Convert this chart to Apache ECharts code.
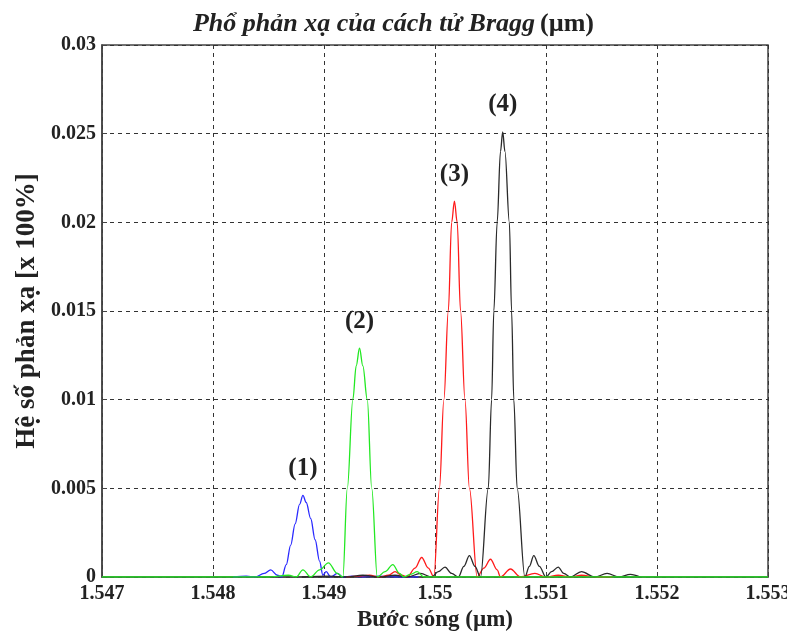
<!DOCTYPE html>
<html>
<head>
<meta charset="utf-8">
<script src="https://cdn.jsdelivr.net/npm/echarts@6/dist/echarts.min.js"></script>
<style>
  html, body { margin: 0; padding: 0; background: #fff; }
  #main { width: 787px; height: 634px; }
</style>
</head>
<body>
<div id="main"></div>
<script>
// Bước sóng (µm) và hệ số phản xạ
const xTicks = [1.547, 1.548, 1.549, 1.55, 1.551, 1.552, 1.553];
const yTicks = [0, 0.005, 0.01, 0.015, 0.02, 0.025, 0.03];
const peakNames = ['(1)', '(2)', '(3)', '(4)'];

// (1) - xanh dương
const wlBlue = [1.54818, 1.5483, 1.54838, 1.54846, 1.54852, 1.54858, 1.54862, 1.54866, 1.5487, 1.54874,
    1.54878, 1.54881, 1.54884, 1.54888, 1.54892, 1.54896, 1.54899, 1.54902, 1.54906, 1.54912,
    1.54917, 1.54925, 1.54935, 1.5495, 1.54965, 1.54985];
const rBlue = [0, 0.00005, 0, 0.0002, 0.0004, 0.0001, 0, 0.0007, 0.0018, 0.003,
    0.0041, 0.0046, 0.0042, 0.0033, 0.0021, 0.0009, 0.0001, 0.0003, 0, 0.0002,
    0, 0.00005, 0, 0.00005, 0, 0];

// (2) - xanh lá
const wlGreen = [1.547, 1.5485, 1.54868, 1.54875, 1.54881, 1.54888, 1.54896, 1.54904, 1.54912, 1.54917,
    1.54921, 1.54926, 1.54929, 1.54932, 1.54935, 1.54939, 1.54943, 1.54948, 1.54955, 1.54962,
    1.54968, 1.54972, 1.54978, 1.54984, 1.5499, 1.55, 1.553];
const rGreen = [0, 0, 0.0001, 0, 0.0004, 0, 0.0004, 0.0008, 0.0002, 0,
    0.005, 0.01, 0.0119, 0.0129, 0.0119, 0.01, 0.005, 0, 0.0003, 0.0007,
    0.0002, 0, 0.00015, 0.0003, 0, 0, 0];

// (3) - đỏ
const wlRed = [1.5492, 1.54932, 1.54941, 1.5495, 1.54958, 1.54964, 1.5497, 1.54975, 1.54982, 1.54988,
    1.54994, 1.54999, 1.55004, 1.55008, 1.55012, 1.55015, 1.550175, 1.5502, 1.55023, 1.55027,
    1.55031, 1.55038, 1.55044, 1.5505, 1.55056, 1.55059, 1.55068, 1.55077, 1.5509, 1.551,
    1.55111, 1.55122, 1.55132, 1.55145, 1.5516];
const rRed = [0, 0.00005, 0.0001, 0, 0.0001, 0.0003, 0.0001, 0, 0.0005, 0.0011,
    0.0005, 0, 0.005, 0.01, 0.015, 0.02, 0.0212, 0.02, 0.015, 0.01,
    0.005, 0, 0.0005, 0.001, 0.0004, 0, 0.00045, 0, 0.0002, 0,
    0.0001, 0, 0.0001, 0, 0];

// (4) - đen
const wlBlack = [1.5488, 1.54905, 1.5492, 1.54935, 1.5495, 1.54964, 1.54975, 1.54987, 1.54997, 1.55003,
    1.55009, 1.55015, 1.55021, 1.55026, 1.55031, 1.55036, 1.55041, 1.55048, 1.55051, 1.55053,
    1.55056, 1.55059, 1.55061, 1.55063, 1.55067, 1.55069, 1.55071, 1.55074, 1.55081, 1.55085,
    1.55089, 1.55094, 1.551, 1.55105, 1.55111, 1.55116, 1.55122, 1.55132, 1.55144, 1.55155,
    1.55166, 1.55176, 1.55185];
const rBlack = [0, 0.00005, 0, 0.0001, 0, 0.0001, 0, 0.0002, 0, 0.0003,
    0.00056, 0.0002, 0, 0.0006, 0.0012, 0.0006, 0, 0.005, 0.01, 0.015,
    0.02, 0.024, 0.0251, 0.024, 0.02, 0.015, 0.01, 0.005, 0, 0.0006,
    0.0012, 0.0006, 0, 0.0003, 0.00056, 0.0002, 0, 0.0003, 0, 0.0002,
    0, 0.00015, 0];

const serif = '"Liberation Serif", "DejaVu Serif", serif';

function zip(xs, ys) {
    return xs.map((x, i) => [x, ys[i]]);
}

function fmt(v) {
    return String(parseFloat(v.toFixed(3)));
}

function makeSeries(name, xs, ys, color, label) {
    return {
        name: name,
        type: 'line',
        data: zip(xs, ys),
        showSymbol: false,
        smooth: 0.35,
        smoothMonotone: 'x',
        lineStyle: { color: color, width: 1.3 },
        itemStyle: { color: color },
        markPoint: {
            symbol: 'rect',
            symbolSize: 1,
            itemStyle: { color: 'rgba(0,0,0,0)' },
            label: {
                show: true,
                position: 'top',
                distance: 14,
                formatter: label,
                color: '#222',
                fontFamily: serif,
                fontWeight: 'bold',
                fontSize: 25
            },
            data: [{ type: 'max' }]
        }
    };
}

function initChart() {
    const chart = echarts.init(document.getElementById('main'));
    chart.setOption({
        backgroundColor: '#fff',
        animation: false,
        title: {
            text: '{a|Phổ phản xạ của cách tử Bragg} {b|(µm)}',
            left: 'center',
            top: 6,
            textStyle: {
                rich: {
                    a: { fontFamily: serif, fontStyle: 'italic', fontWeight: 'bold', fontSize: 26, color: '#222' },
                    b: { fontFamily: serif, fontWeight: 'bold', fontSize: 26, color: '#222' }
                }
            }
        },
        grid: {
            left: 102, right: 19, top: 45, bottom: 57,
            outerBoundsMode: 'none',
            show: true,
            borderColor: '#444',
            borderWidth: 1.5,
            backgroundColor: '#fff'
        },
        xAxis: {
            type: 'value',
            min: xTicks[0],
            max: xTicks[xTicks.length - 1],
            interval: 0.001,
            name: 'Bước sóng (µm)',
            nameLocation: 'middle',
            nameGap: 27,
            nameTextStyle: { fontFamily: serif, fontWeight: 'bold', fontSize: 23, color: '#222' },
            axisLine: { show: true, lineStyle: { color: '#444', width: 1.5 } },
            axisTick: { show: true, inside: true, length: 5, lineStyle: { color: '#444' } },
            axisLabel: {
                formatter: fmt, margin: 7,
                fontFamily: serif, fontWeight: 'bold', fontSize: 20, color: '#222'
            },
            splitLine: { show: true, lineStyle: { color: '#333', type: [4, 4], width: 1 } }
        },
        yAxis: {
            type: 'value',
            min: yTicks[0],
            max: yTicks[yTicks.length - 1],
            interval: 0.005,
            name: 'Hệ số phản xạ [x 100%]',
            nameLocation: 'middle',
            nameGap: 56,
            nameTextStyle: { fontFamily: serif, fontWeight: 'bold', fontSize: 27, color: '#222' },
            axisLine: { show: true, lineStyle: { color: '#444', width: 1.5 } },
            axisTick: { show: true, inside: true, length: 5, lineStyle: { color: '#444' } },
            axisLabel: {
                formatter: fmt, margin: 6,
                fontFamily: serif, fontWeight: 'bold', fontSize: 20, color: '#222'
            },
            splitLine: { show: true, lineStyle: { color: '#333', type: [4, 4], width: 1 } }
        },
        series: [
            makeSeries('(1)', wlBlue, rBlue, '#2a2aff', peakNames[0]),
            makeSeries('(3)', wlRed, rRed, '#ff1a1a', peakNames[2]),
            makeSeries('(4)', wlBlack, rBlack, '#2a2a2a', peakNames[3]),
            makeSeries('(2)', wlGreen, rGreen, '#22e822', peakNames[1])
        ]
    });
    window.addEventListener('resize', () => chart.resize());
}

document.addEventListener('DOMContentLoaded', initChart);
</script>
</body>
</html>
